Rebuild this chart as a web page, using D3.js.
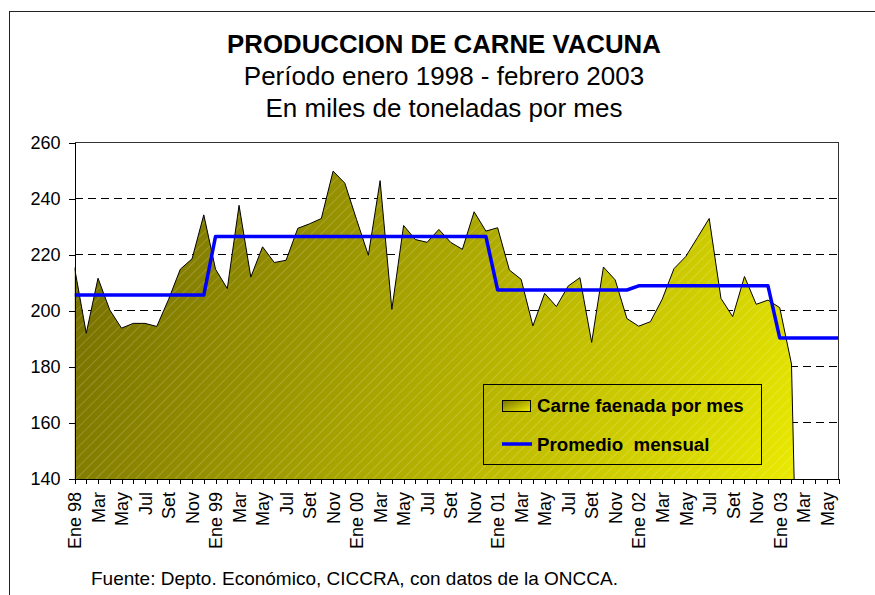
<!DOCTYPE html>
<html>
<head>
<meta charset="utf-8">
<script src="https://cdn.jsdelivr.net/npm/d3@7/dist/d3.min.js"></script>
<style>
    body { margin: 0; background: #fff; }
    svg text { font-family: Arial, "Liberation Sans", sans-serif; fill: #000; }
    .axis path, .axis line { stroke: #000; shape-rendering: crispEdges; }
    .axis text { font-size: 18px; }
</style>
</head>
<body>
<div id="chart"></div>
<script>
// Month names and years used for the category axis
const monthNames = ['Ene', 'Feb', 'Mar', 'Abr', 'May', 'Jun', 'Jul', 'Ago', 'Set', 'Oct', 'Nov', 'Dic'];
const years = ['98', '99', '00', '01', '02', '03'];
const monthsShown = 66; // Ene 98 .. Jun 03

// Carne faenada por mes (miles de toneladas)
const prod1998 = [215.4, 192.0, 211.6, 200.3, 193.8, 195.5, 195.5, 194.4, 204.0, 214.8, 218.5, 234.2];
const prod1999 = [214.8, 207.9, 237.6, 212.0, 222.8, 217.2, 218.0, 229.4, 231.0, 232.9, 249.8, 245.5];
const prod2000 = [232.5, 219.8, 246.4, 200.5, 230.4, 225.4, 224.4, 229.0, 224.4, 221.9, 235.3, 228.4];
const prod2001 = [229.6, 214.5, 211.2, 194.6, 206.2, 201.5, 208.8, 211.8, 188.7, 215.6, 211.0, 197.2];
const prod2002 = [194.5, 196.1, 204.1, 215.0, 219.3, 226.1, 232.9, 204.4, 197.9, 212.2, 202.3, 203.8];
const prod2003 = [201.1, 181.0];

// Promedio mensual for each year (98 .. 03)
const promedioAnual = [205.6, 226.5, 226.5, 207.4, 208.9, 190.3];

const yTicks = [140, 160, 180, 200, 220, 240, 260];

const titleLines = ['PRODUCCION DE CARNE VACUNA', 'Período enero 1998 - febrero 2003', 'En miles de toneladas por mes'];
const legendLabels = ['Carne faenada por mes', 'Promedio  mensual'];
const footnote = 'Fuente: Depto. Económico, CICCRA, con datos de la ONCCA.';

const config = {
    width: 875,
    height: 595,
    plot: { left: 74.5, right: 838.5, top: 142.5, bottom: 479 }
};

// Build month categories and series
const categories = [];
years.forEach((yr, yi) => monthNames.forEach((m, mi) => {
    categories.push({ idx: yi * 12 + mi, label: mi === 0 ? `${m} ${yr}` : m, year: yi });
}));
categories.splice(monthsShown);

const produccion = [...prod1998, ...prod1999, ...prod2000, ...prod2001, ...prod2002, ...prod2003]
    .map((v, i) => ({ idx: i, value: v }));
// Excel draws the first empty month as zero, which makes the area drop to the axis
produccion.push({ idx: produccion.length, value: 0 });

const promedio = categories.map(c => ({ idx: c.idx, value: promedioAnual[c.year] }));

const svg = d3.select('#chart').append('svg')
    .attr('width', config.width)
    .attr('height', config.height);

// outer chart frame (right and bottom sides fall outside the picture)
svg.append('rect')
    .attr('x', 9.5).attr('y', 11.5)
    .attr('width', 900).attr('height', 700)
    .attr('fill', 'none')
    .attr('stroke', '#222');

const p = config.plot;

const xScale = d3.scalePoint()
    .domain(categories.map(d => d.idx))
    .range([p.left, p.right]);

const yScale = d3.scaleLinear()
    .domain([140, 260])
    .range([p.bottom, p.top]);

const defs = svg.append('defs');

const grad = defs.append('linearGradient')
    .attr('id', 'areaGrad')
    .attr('gradientUnits', 'userSpaceOnUse')
    .attr('x1', p.left).attr('y1', p.top + 60)
    .attr('x2', p.right - 40).attr('y2', p.bottom + 60);
grad.append('stop').attr('offset', '0%').attr('stop-color', '#716a00');
grad.append('stop').attr('offset', '100%').attr('stop-color', '#eeee00');

const swatchGrad = defs.append('linearGradient')
    .attr('id', 'swatchGrad')
    .attr('x1', 0).attr('y1', 0).attr('x2', 1).attr('y2', 1);
swatchGrad.append('stop').attr('offset', '0%').attr('stop-color', '#7a7300');
swatchGrad.append('stop').attr('offset', '100%').attr('stop-color', '#eeee00');

const hatch = defs.append('pattern')
    .attr('id', 'hatch')
    .attr('patternUnits', 'userSpaceOnUse')
    .attr('width', 7).attr('height', 7)
    .attr('patternTransform', 'rotate(45)');
hatch.append('line')
    .attr('x1', 0).attr('y1', 0).attr('x2', 0).attr('y2', 7)
    .attr('stroke', '#fff')
    .attr('stroke-opacity', 0.35)
    .attr('stroke-width', 1);

defs.append('clipPath').attr('id', 'plotClip')
    .append('rect')
    .attr('x', p.left).attr('y', p.top)
    .attr('width', p.right - p.left).attr('height', p.bottom - p.top);

// Gridlines (dashed)
svg.append('g')
    .selectAll('line')
    .data(yTicks.slice(1, -1))
    .join('line')
    .attr('x1', p.left).attr('x2', p.right)
    .attr('y1', d => yScale(d)).attr('y2', d => yScale(d))
    .attr('stroke', '#000')
    .attr('stroke-dasharray', '8,5')
    .attr('shape-rendering', 'crispEdges');

// Area
const area = d3.area()
    .x(d => xScale(d.idx))
    .y0(yScale(140))
    .y1(d => yScale(d.value));

const areaLine = d3.line()
    .x(d => xScale(d.idx))
    .y(d => yScale(d.value));

const chartArea = svg.append('g').attr('clip-path', 'url(#plotClip)');

chartArea.append('path')
    .datum(produccion)
    .attr('d', area)
    .attr('fill', 'url(#areaGrad)');

chartArea.append('path')
    .datum(produccion)
    .attr('d', area)
    .attr('fill', 'url(#hatch)');

chartArea.append('path')
    .datum(produccion)
    .attr('d', areaLine)
    .attr('fill', 'none')
    .attr('stroke', '#000')
    .attr('stroke-width', 1);

// Promedio line
chartArea.append('path')
    .datum(promedio)
    .attr('d', areaLine)
    .attr('fill', 'none')
    .attr('stroke', '#0000ff')
    .attr('stroke-width', 3.5)
    .attr('stroke-linejoin', 'round');

// Plot frame (top and right)
svg.append('path')
    .attr('d', `M${p.left},${p.top}H${p.right}V${p.bottom}`)
    .attr('fill', 'none')
    .attr('stroke', '#333')
    .attr('shape-rendering', 'crispEdges');

// Axes
const xAxis = d3.axisBottom(xScale)
    .tickSize(5)
    .tickSizeOuter(0)
    .tickFormat(d => d % 2 === 0 ? categories[d].label : '');

const xAxisG = svg.append('g')
    .attr('class', 'axis x-axis')
    .attr('transform', `translate(0,${p.bottom})`)
    .call(xAxis);

xAxisG.selectAll('.tick text')
    .attr('transform', 'rotate(-90)')
    .attr('x', -13)
    .attr('y', 0)
    .attr('dy', '0.35em')
    .style('text-anchor', 'end');

const yAxis = d3.axisLeft(yScale)
    .tickValues(yTicks)
    .tickSize(6)
    .tickSizeOuter(0)
    .tickPadding(8);

svg.append('g')
    .attr('class', 'axis y-axis')
    .attr('transform', `translate(${p.left},0)`)
    .call(yAxis);

// Titles
const titleG = svg.append('g').attr('text-anchor', 'middle');
titleG.append('text')
    .attr('x', 444).attr('y', 53)
    .style('font-size', '25.8px')
    .style('font-weight', 'bold')
    .text(titleLines[0]);
titleG.append('text')
    .attr('x', 444).attr('y', 85)
    .style('font-size', '26px')
    .text(titleLines[1]);
titleG.append('text')
    .attr('x', 444).attr('y', 117)
    .style('font-size', '26px')
    .text(titleLines[2]);

// Legend
const legend = svg.append('g').attr('class', 'legend');
legend.append('rect')
    .attr('x', 483.5).attr('y', 384.5)
    .attr('width', 278).attr('height', 80)
    .attr('fill', 'none')
    .attr('stroke', '#000');
legend.append('rect')
    .attr('x', 502.5).attr('y', 400.5)
    .attr('width', 28).attr('height', 11)
    .attr('fill', 'url(#swatchGrad)')
    .attr('stroke', '#000');
legend.append('line')
    .attr('x1', 502).attr('x2', 532)
    .attr('y1', 444).attr('y2', 444)
    .attr('stroke', '#0000ff')
    .attr('stroke-width', 3.5);
legend.selectAll('text.leg')
    .data(legendLabels)
    .join('text')
    .attr('class', 'leg')
    .attr('x', 537)
    .attr('y', (d, i) => 412 + i * 39)
    .style('font-size', '18.7px')
    .style('font-weight', 'bold')
    .style('white-space', 'pre')
    .text(d => d);

// Footnote
svg.append('text')
    .attr('x', 91).attr('y', 585)
    .style('font-size', '19px')
    .text(footnote);
</script>
</body>
</html>
